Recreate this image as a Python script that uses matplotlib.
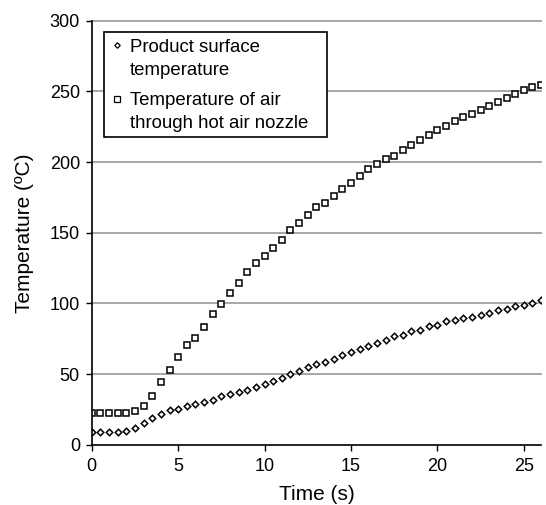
import numpy as np
import matplotlib
matplotlib.use("Agg")
import matplotlib.pyplot as plt
from matplotlib.patches import Rectangle

plt.rcParams['font.family'] = ['Liberation Sans', 'DejaVu Sans']

# ---- data ----
time_s = [i * 0.5 for i in range(53)]  # 0 ... 26 s, every 0.5 s

product_surface = [
    9.4, 9.0, 9.0, 9.1, 10.0, 11.7, 15.2, 18.8, 21.8, 24.3,
    25.6, 27.2, 28.8, 30.5, 31.8, 34.4, 35.9, 37.7, 38.6, 40.8,
    42.9, 45.0, 47.4, 50.2, 52.3, 54.9, 57.1, 58.5, 60.9, 63.2,
    65.3, 67.5, 69.6, 72.2, 74.3, 76.7, 77.9, 80.2, 81.4, 83.8,
    85.0, 87.3, 88.0, 89.5, 90.4, 92.1, 93.2, 95.1, 96.1, 98.0,
    99.1, 100.3, 102.2,
]

air_nozzle = [
    22.3, 22.3, 22.3, 22.3, 22.3, 24.0, 27.5, 34.6, 44.1, 52.6,
    62.0, 70.5, 75.3, 83.5, 92.5, 99.6, 107.7, 114.8, 122.3, 128.9,
    133.5, 139.1, 145.2, 151.6, 157.1, 162.8, 168.4, 171.0, 176.0, 180.7,
    185.4, 190.2, 194.9, 198.7, 202.3, 204.3, 208.4, 211.9, 215.9, 219.0,
    222.6, 225.6, 229.2, 232.0, 233.9, 236.7, 240.0, 242.6, 245.5, 248.1,
    250.9, 253.3, 254.7,
]

x_ticks = [0, 5, 10, 15, 20, 25]
y_ticks = [0, 50, 100, 150, 200, 250, 300]
legend_lines = [
    ["Product surface", "temperature"],
    ["Temperature of air", "through hot air nozzle"],
]
x_label = "Time (s)"
y_label = "Temperature (ºC)"

# ---- figure ----
fig = plt.figure(figsize=(5.46, 5.05), dpi=100)
ax = fig.add_axes([0.168, 0.1192, 0.823, 0.8398])

ax.set_xlim(0, 26)
ax.set_ylim(0, 300)
ax.set_xticks(x_ticks)
ax.set_yticks(y_ticks)

for y in y_ticks[1:]:
    ax.axhline(y, color='#a0a0a0', lw=1.3, zorder=1, clip_on=False)

ax.plot(time_s, product_surface, linestyle='none', marker='D', markersize=3.3,
        markerfacecolor='white', markeredgecolor='black', markeredgewidth=1.1, zorder=3)
ax.plot(time_s, air_nozzle, linestyle='none', marker='s', markersize=4.7,
        markerfacecolor='white', markeredgecolor='black', markeredgewidth=1.1, zorder=3)

for s in ['top', 'right']:
    ax.spines[s].set_visible(False)
for s in ['left', 'bottom']:
    ax.spines[s].set_linewidth(1.2)
    ax.spines[s].set_zorder(4)

ax.tick_params(axis='both', direction='out', width=1.0, labelsize=13, colors='black')
ax.tick_params(axis='y', length=4.5, pad=4)
ax.tick_params(axis='x', length=4.5, pad=5)

ax.set_xlabel(x_label, fontsize=15, labelpad=7)
ax.set_ylabel(y_label, fontsize=15, labelpad=11)

# ---- manual legend (marker aligned with first line of each entry) ----
ax.add_patch(Rectangle((0.028, 0.7265), 0.495, 0.2462, transform=ax.transAxes,
                       facecolor='white', edgecolor='black', lw=1.2, zorder=5))
ax.plot([0.057], [0.9427], transform=ax.transAxes, linestyle='none', marker='D',
        markersize=2.8, markerfacecolor='white', markeredgecolor='black',
        markeredgewidth=0.9, zorder=6, clip_on=False)
ax.plot([0.0556], [0.8154], transform=ax.transAxes, linestyle='none', marker='s',
        markersize=4.0, markerfacecolor='white', markeredgecolor='black',
        markeredgewidth=0.9, zorder=6, clip_on=False)
baselines = [[0.9255, 0.872], [0.8011, 0.7463]]
for lines, ys in zip(legend_lines, baselines):
    for txt, yy in zip(lines, ys):
        ax.text(0.0852, yy, txt, transform=ax.transAxes, fontsize=13.4,
                va='baseline', ha='left', zorder=6)

fig.savefig("out.png", dpi=100)
